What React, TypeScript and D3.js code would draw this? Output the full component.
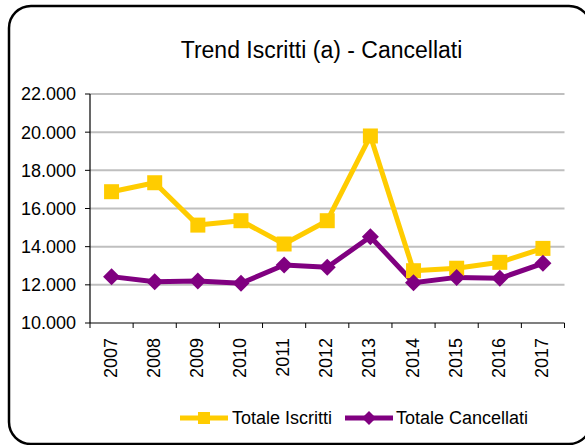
import React from "react";
import * as d3 from "d3";

const years = ["2007","2008","2009","2010","2011","2012","2013","2014","2015","2016","2017"];
const iscritti = [16880, 17350, 15130, 15360, 14140, 15360, 19800, 12740, 12870, 13180, 13910];
const cancellati = [12430, 12160, 12200, 12080, 13040, 12920, 14520, 12110, 12390, 12340, 13130];
const yTicks = [10000, 12000, 14000, 16000, 18000, 20000, 22000];
const seriesNames = ["Totale Iscritti", "Totale Cancellati"];

const W = 585, H = 445;
const FONT = "'Liberation Sans', Arial, sans-serif";
const YELLOW = "#FFCC00";
const PURPLE = "#800080";

export default function App() {
  const x = d3.scaleBand<string>().domain(years).range([90, 564.5]);
  const y = d3.scaleLinear().domain([10000, 22000]).range([323, 94]);
  const fmt = (v: number) => d3.format(",")(v).replace(/,/g, ".");
  const cx = (yr: string) => (x(yr) as number) + x.bandwidth() / 2;
  const line = d3.line<number>().x((_, i) => cx(years[i])).y((d) => y(d));
  const diamond = (px: number, py: number, r: number) =>
    `M${px},${py - r}L${px + r},${py}L${px},${py + r}L${px - r},${py}Z`;

  return (
    <svg width={W} height={H} style={{ position: "absolute", left: 0, top: 0, background: "#fff" }} fontFamily={FONT}>
      <rect x={9} y={6} width={582} height={438} rx={22} ry={22} fill="#fff" stroke="#000" strokeWidth={2.5} />
      <text x={321.5} y={58} textAnchor="middle" fontSize={23} fill="#000">Trend Iscritti (a) - Cancellati</text>
      {yTicks.map((t) => (
        <g key={t}>
          {t > 10000 && <line x1={90} x2={564.5} y1={y(t)} y2={y(t)} stroke="#BFBFBF" strokeWidth={2} />}
          <line x1={85} x2={90} y1={y(t)} y2={y(t)} stroke="#000" strokeWidth={1} />
          <text x={76} y={y(t)} dy="0.36em" textAnchor="end" fontSize={18} fill="#000">{fmt(t)}</text>
        </g>
      ))}
      <line x1={90} x2={90} y1={94} y2={323} stroke="#000" strokeWidth={1.2} />
      <line x1={90} x2={564.5} y1={323} y2={323} stroke="#000" strokeWidth={1.2} />
      {[...years.map((yr) => x(yr) as number), 564.5].map((v, i) => (
        <line key={i} x1={v} x2={v} y1={323} y2={328} stroke="#000" strokeWidth={1} />
      ))}
      {years.map((yr) => (
        <text key={yr} transform={`translate(${cx(yr) - 1.5},338) rotate(-90)`} textAnchor="end" dy="0.36em" fontSize={18} fill="#000">{yr}</text>
      ))}
      <path d={line(iscritti) || ""} fill="none" stroke={YELLOW} strokeWidth={5} strokeLinejoin="round" />
      <path d={line(cancellati) || ""} fill="none" stroke={PURPLE} strokeWidth={5} strokeLinejoin="round" />
      {iscritti.map((v, i) => (
        <rect key={i} x={cx(years[i]) - 7.5} y={y(v) - 7.5} width={15} height={15} fill={YELLOW} />
      ))}
      {cancellati.map((v, i) => (
        <path key={i} d={diamond(cx(years[i]), y(v), 8.5)} fill={PURPLE} />
      ))}
      <g>
        <line x1={180} x2={228} y1={418} y2={418} stroke={YELLOW} strokeWidth={5} />
        <rect x={198} y={412} width={12} height={12} fill={YELLOW} />
        <text x={232} y={418} dy="0.36em" fontSize={18} fill="#000">{seriesNames[0]}</text>
        <line x1={345} x2={393} y1={418} y2={418} stroke={PURPLE} strokeWidth={5} />
        <path d={diamond(369, 418, 7)} fill={PURPLE} />
        <text x={396} y={418} dy="0.36em" fontSize={18} fill="#000">{seriesNames[1]}</text>
      </g>
    </svg>
  );
}
